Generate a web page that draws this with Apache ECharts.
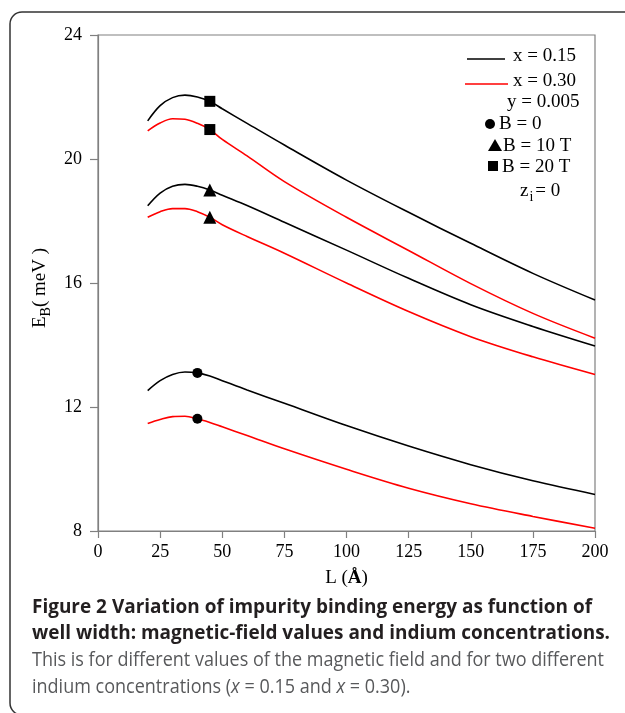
<!DOCTYPE html>
<html lang="en">
<head>
    <meta charset="UTF-8">
    <title>Figure 2</title>
</head>
<script src="https://cdn.jsdelivr.net/npm/echarts@6.0.0/dist/echarts.min.js" type="text/javascript"></script>
<body style="margin:0;background:#fff;">
<div id="chart" style="width:625px;height:713px;"></div>

<script type="text/javascript">
    // well width L (Å)
    var L = [20, 25, 30, 35, 40, 45, 50, 60, 75, 100, 125, 150, 175, 200];
    // binding energy (meV), x = 0.15 (black) and x = 0.30 (red)
    var x015_B20 = [21.23, 21.72, 21.98, 22.06, 22.00, 21.86, 21.62, 21.15, 20.45, 19.32, 18.28, 17.28, 16.31, 15.45];
    var x030_B20 = [20.91, 21.16, 21.30, 21.28, 21.15, 20.95, 20.63, 20.10, 19.27, 18.12, 17.05, 15.98, 15.02, 14.22];
    var x015_B10 = [18.49, 18.90, 19.12, 19.18, 19.12, 19.00, 18.83, 18.50, 17.96, 17.06, 16.15, 15.30, 14.60, 13.97];
    var x030_B10 = [18.12, 18.30, 18.40, 18.40, 18.30, 18.12, 17.88, 17.50, 16.96, 16.00, 15.08, 14.27, 13.62, 13.05];
    var x015_B0 = [12.53, 12.85, 13.05, 13.13, 13.10, 13.00, 12.85, 12.55, 12.12, 11.40, 10.74, 10.14, 9.62, 9.18];
    var x030_B0 = [11.47, 11.60, 11.69, 11.70, 11.62, 11.50, 11.36, 11.08, 10.65, 9.99, 9.38, 8.88, 8.47, 8.09];
    // where the B markers sit on each curve
    var markL_B0 = 40;
    var markL_B10 = 45;
    var markL_B20 = 45;
    var xTicks = [0, 25, 50, 75, 100, 125, 150, 175, 200];
    var yTicks = [8, 12, 16, 20, 24];

    var captionLines = [
        'Figure 2 Variation of impurity binding energy as function of',
        'well width: magnetic-field values and indium concentrations.',
        'This is for different values of the magnetic field and for two different',
        'indium concentrations (x = 0.15 and x = 0.30).'
    ];

    var serif = '"Liberation Serif", "DejaVu Serif", serif';

    function pairs(ys) {
        return L.map(function (l, i) { return [l, ys[i]]; });
    }
    function at(ys, l) {
        return [l, ys[L.indexOf(l)]];
    }
    function curve(ys, color) {
        return {
            type: 'line',
            data: pairs(ys),
            smooth: 0.35,
            showSymbol: false,
            silent: true,
            lineStyle: {color: color, width: 1.6},
            z: 2
        };
    }
    function marks(symbol, size, pts) {
        return {
            type: 'scatter',
            data: pts,
            symbol: symbol,
            symbolSize: size,
            itemStyle: {color: '#000', opacity: 1},
            silent: true,
            z: 3
        };
    }

    // squeeze caption lines to the widths in the figure
    var ctx = document.createElement('canvas').getContext('2d');
    function fit(text, font, width) {
        ctx.font = font;
        return width / ctx.measureText(text).width;
    }
    var boldFont = 'bold 20px "Open Sans"';
    var normFont = '20px "Open Sans"';
    var sBold = fit(captionLines[0], boldFont, 560);
    var sNorm = fit(captionLines[2], normFont, 572);
    var capGraphics = captionLines.map(function (t, i) {
        var bold = i < 2;
        var style = {
            text: t,
            fill: bold ? '#231f20' : '#58595b',
            font: bold ? boldFont : normFont,
            textVerticalAlign: 'middle'
        };
        if (i === 3) {
            style = {
                text: '{n|indium concentrations (}{i|x}{n| = 0.15 and }{i|x}{n| = 0.30).}',
                textVerticalAlign: 'middle',
                rich: {
                    n: {fontFamily: 'Open Sans', fontSize: 20, fill: '#58595b'},
                    i: {fontFamily: 'Open Sans', fontSize: 20, fontStyle: 'italic', fill: '#58595b'}
                }
            };
        }
        return {
            type: 'text',
            x: 32,
            y: 607 + i * 26.7,
            scaleX: bold ? sBold : sNorm,
            style: style
        };
    });

    var legendFont = '19px ' + serif;
    var legendGraphics = [
        {type: 'line', shape: {x1: 467, y1: 59, x2: 505, y2: 59}, style: {stroke: '#000', lineWidth: 1.6}},
        {type: 'text', x: 513, y: 56, style: {text: 'x = 0.15', font: legendFont, fill: '#000', textVerticalAlign: 'middle'}},
        {type: 'line', shape: {x1: 465, y1: 84, x2: 508, y2: 84}, style: {stroke: '#ff0000', lineWidth: 1.6}},
        {type: 'text', x: 513, y: 81, style: {text: 'x = 0.30', font: legendFont, fill: '#000', textVerticalAlign: 'middle'}},
        {type: 'text', x: 507, y: 102, style: {text: 'y = 0.005', font: legendFont, fill: '#000', textVerticalAlign: 'middle'}},
        {type: 'circle', shape: {cx: 490, cy: 124, r: 5}, style: {fill: '#000'}},
        {type: 'text', x: 499, y: 124, style: {text: 'B = 0', font: legendFont, fill: '#000', textVerticalAlign: 'middle'}},
        {type: 'polygon', shape: {points: [[495, 139], [502, 151], [488, 151]]}, style: {fill: '#000'}},
        {type: 'text', x: 503, y: 146, style: {text: 'B = 10 T', font: legendFont, fill: '#000', textVerticalAlign: 'middle'}},
        {type: 'rect', shape: {x: 488, y: 161, width: 10, height: 10}, style: {fill: '#000'}},
        {type: 'text', x: 502, y: 167, style: {text: 'B = 20 T', font: legendFont, fill: '#000', textVerticalAlign: 'middle'}},
        {
            type: 'text', x: 520, y: 182,
            style: {
                text: '{a|z}{s|i}{a|= 0}',
                textVerticalAlign: 'top',
                rich: {
                    a: {fontFamily: serif, fontSize: 19, lineHeight: 20, verticalAlign: 'top', fill: '#000'},
                    s: {fontFamily: serif, fontSize: 14, lineHeight: 16, padding: [10, 2, 0, 1], fill: '#000'}
                }
            }
        }
    ];

    var chart = echarts.init(document.getElementById('chart'), null, {renderer: 'canvas'});
    var option = {
        animation: false,
        backgroundColor: '#fff',
        grid: {
            left: 98, right: 30, top: 35, bottom: 182,
            show: true, borderColor: '#808080', borderWidth: 1.2,
            containLabel: false
        },
        xAxis: {
            type: 'value',
            min: xTicks[0], max: xTicks[xTicks.length - 1], interval: 25,
            name: '{n|L (}{b|Å}{n|)}',
            nameLocation: 'middle',
            nameGap: 38,
            nameTextStyle: {
                rich: {
                    n: {fontFamily: serif, fontSize: 19, color: '#000'},
                    b: {fontFamily: serif, fontSize: 19, fontWeight: 'bold', color: '#000'}
                }
            },
            axisLine: {lineStyle: {color: '#808080', width: 1.2}},
            axisTick: {inside: false, length: 7, lineStyle: {color: '#808080', width: 1.2}},
            axisLabel: {fontFamily: serif, fontSize: 18, color: '#000', margin: 12},
            splitLine: {show: false}
        },
        yAxis: {
            type: 'value',
            min: yTicks[0], max: yTicks[yTicks.length - 1], interval: 4,
            name: '{e|E}{s|B}{e|( meV )}',
            nameLocation: 'middle',
            nameRotate: 90,
            nameGap: 40,
            nameTextStyle: {
                padding: [0, 10, 0, 0],
                rich: {
                    e: {fontFamily: serif, fontSize: 19, color: '#000', lineHeight: 20, verticalAlign: 'top'},
                    s: {fontFamily: serif, fontSize: 14, color: '#000', lineHeight: 16, padding: [12, 0, 0, 0]}
                }
            },
            axisLine: {lineStyle: {color: '#808080', width: 1.2}},
            axisTick: {inside: false, length: 8, lineStyle: {color: '#808080', width: 1.2}},
            axisLabel: {fontFamily: serif, fontSize: 18, color: '#000', margin: 16},
            splitLine: {show: false}
        },
        series: [
            curve(x015_B20, '#000'),
            curve(x030_B20, '#ff0000'),
            curve(x015_B10, '#000'),
            curve(x030_B10, '#ff0000'),
            curve(x015_B0, '#000'),
            curve(x030_B0, '#ff0000'),
            marks('rect', 11, [at(x015_B20, markL_B20), at(x030_B20, markL_B20)]),
            marks('triangle', 13, [at(x015_B10, markL_B10), at(x030_B10, markL_B10)]),
            marks('circle', 10, [at(x015_B0, markL_B0), at(x030_B0, markL_B0)])
        ],
        graphic: [
            {
                type: 'rect',
                shape: {x: 10, y: 12, width: 640, height: 703, r: 12},
                style: {fill: 'none', stroke: '#333', lineWidth: 1.5},
                silent: true
            }
        ].concat(legendGraphics, capGraphics)
    };
    chart.setOption(option);
</script>
</body>
</html>
